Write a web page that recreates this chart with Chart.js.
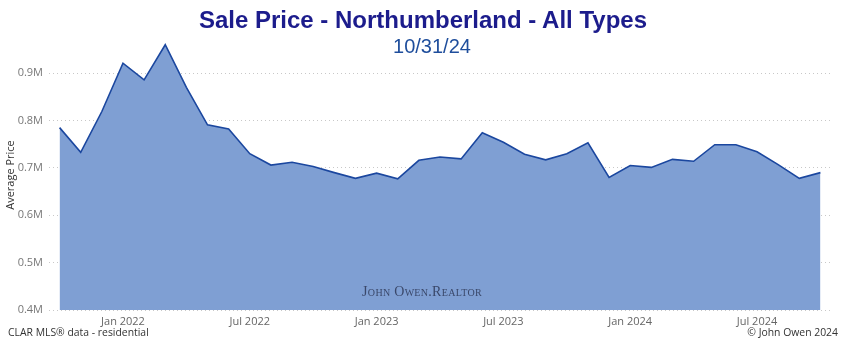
<!DOCTYPE html>
<html>
<head>
<meta charset="utf-8">
<script src="https://cdn.jsdelivr.net/npm/chart.js@4"></script>
<style>
  body { margin: 0; background: #fff; }
  #wrap { position: relative; width: 846px; height: 340px; overflow: hidden; }
  .txt { position: absolute; white-space: nowrap; }
  #title { left: 0; width: 846px; top: 6px; text-align: center; font: bold 24px "Liberation Sans", Arial, sans-serif; color: #1c1c8c; }
  #sub { left: 0; width: 864px; top: 35px; text-align: center; font: 20px "Liberation Sans", Arial, sans-serif; color: #1f4e9c; }
  #mark { left: 357px; top: 284px; width: 130px; text-align: center; font: 14px "Liberation Serif", serif; font-variant: small-caps; color: #3a486a; letter-spacing: 0.3px; }
  #src { left: 8px; top: 325px; font: 10.4px "Open Sans", "DejaVu Sans", sans-serif; color: #333; }
  #copy { right: 8px; top: 325px; font: 10.4px "Open Sans", "DejaVu Sans", sans-serif; color: #333; }
</style>
</head>
<body>
<div id="wrap">
  <canvas id="chart" width="846" height="340"></canvas>
  <div class="txt" id="title">Sale Price - Northumberland - All Types</div>
  <div class="txt" id="sub">10/31/24</div>
  <div class="txt" id="mark">John Owen.Realtor</div>
  <div class="txt" id="src">CLAR MLS® data - residential</div>
  <div class="txt" id="copy">© John Owen 2024</div>
</div>
<script>
'use strict';
// months Oct 2021 .. Oct 2024
var months = ['Oct 2021','Nov 2021','Dec 2021',
  'Jan 2022','Feb 2022','Mar 2022','Apr 2022','May 2022','Jun 2022','Jul 2022','Aug 2022','Sep 2022','Oct 2022','Nov 2022','Dec 2022',
  'Jan 2023','Feb 2023','Mar 2023','Apr 2023','May 2023','Jun 2023','Jul 2023','Aug 2023','Sep 2023','Oct 2023','Nov 2023','Dec 2023',
  'Jan 2024','Feb 2024','Mar 2024','Apr 2024','May 2024','Jun 2024','Jul 2024','Aug 2024','Sep 2024','Oct 2024'];

var avgPrice = [785000, 733000, 819000,
  921000, 886000, 960000, 870000, 791000, 782000, 730000, 706000, 712000, 703000, 690000, 678000,
  689000, 677000, 716000, 723000, 719000, 774000, 754000, 729000, 717000, 730000, 753000, 680000,
  705000, 701000, 718000, 714000, 749000, 749000, 734000, 707000, 678000, 690000];

var yTicks = [400000, 500000, 600000, 700000, 800000, 900000];
var shownLabels = ['Jan 2022','Jul 2022','Jan 2023','Jul 2023','Jan 2024','Jul 2024'];

var ctx = document.getElementById('chart');
var myChart = new Chart(ctx, {
  type: 'line',
  data: {
    labels: months,
    datasets: [{
      label: 'Average Price',
      data: avgPrice,
      fill: 'start',
      backgroundColor: '#7f9fd3',
      borderColor: '#1b479f',
      borderWidth: 1.6,
      pointRadius: 0,
      tension: 0
    }]
  },
  options: {
    responsive: false,
    animation: false,
    layout: { padding: { top: 40, right: 15, left: 0, bottom: 0 } },
    plugins: {
      legend: { display: false },
      tooltip: { enabled: false }
    },
    scales: {
      x: {
        offset: true,
        grid: { display: false, drawTicks: false, tickLength: 0 },
        border: { display: false },
        ticks: {
          autoSkip: false,
          maxRotation: 0,
          padding: 5,
          color: '#666',
          font: { family: '"Open Sans", "DejaVu Sans", sans-serif', size: 11 },
          callback: function(v, i) {
            var l = months[i];
            return shownLabels.indexOf(l) >= 0 ? l : '';
          }
        },
        afterFit: function(scale) { scale.height = 30; }
      },
      y: {
        min: 400000,
        max: 970000,
        afterBuildTicks: function(scale) {
          scale.ticks = yTicks.map(function(v) { return { value: v }; });
        },
        grid: { color: '#c8c8c8', drawTicks: false, lineWidth: 1 },
        border: { display: false, dash: [1, 3] },
        ticks: {
          padding: 6,
          color: '#777',
          font: { family: '"Open Sans", "DejaVu Sans", sans-serif', size: 11 },
          callback: function(v) { return (v / 1000000).toFixed(1) + 'M'; }
        },
        title: {
          display: true,
          text: 'Average Price',
          color: '#333',
          padding: { top: 4, bottom: 0 },
          font: { family: '"Open Sans", "DejaVu Sans", sans-serif', size: 11 }
        },
        afterFit: function(scale) { scale.width = 49; }
      }
    }
  }
});
</script>
</body>
</html>
